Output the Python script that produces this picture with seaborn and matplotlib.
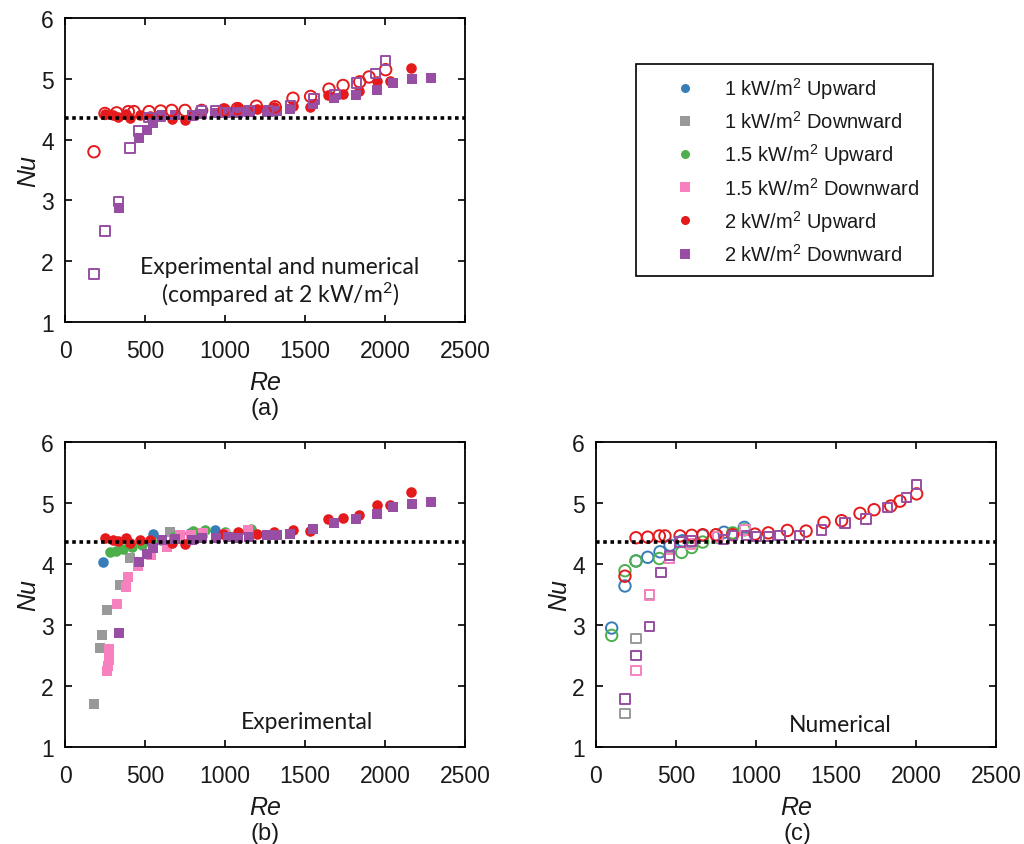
import matplotlib
matplotlib.use("Agg")
import matplotlib.pyplot as plt
from matplotlib.lines import Line2D
import seaborn as sns

# ---------------- data ----------------
# Experimental, 1 kW/m2
exp_1up_re = [240, 550, 780, 940]
exp_1up_nu = [4.03, 4.50, 4.51, 4.56]
exp_1down_re = [180, 218, 230, 262, 342, 405, 655]
exp_1down_nu = [1.70, 2.62, 2.84, 3.24, 3.66, 4.10, 4.52]
# Experimental, 1.5 kW/m2
exp_15up_re = [280, 320, 365, 420, 480, 540, 600, 680, 800, 875, 1000, 1165]
exp_15up_nu = [4.19, 4.22, 4.25, 4.28, 4.31, 4.36, 4.40, 4.45, 4.54, 4.55, 4.52, 4.57]
exp_15down_re = [262, 268, 272, 275, 278, 327, 381, 392, 458, 540, 635, 720, 790, 865, 1000, 1145]
exp_15down_nu = [2.25, 2.33, 2.42, 2.52, 2.60, 3.34, 3.62, 3.79, 3.97, 4.15, 4.28, 4.48, 4.47, 4.51, 4.50, 4.56]
# Experimental, 2 kW/m2
exp_2up_re = [250, 302, 333, 381, 406, 469, 531, 667, 750, 990, 1083, 1198, 1309, 1425,
              1530, 1646, 1735, 1840, 1948, 2031, 2160]
exp_2up_nu = [4.42, 4.40, 4.37, 4.42, 4.35, 4.40, 4.39, 4.34, 4.32, 4.50, 4.53, 4.50, 4.53, 4.56,
              4.54, 4.73, 4.75, 4.80, 4.96, 4.96, 5.18]
exp_2down_re = [338, 463, 510, 552, 604, 688, 792, 854, 944, 1021, 1083, 1152, 1260, 1323,
                1406, 1552, 1679, 1819, 1948, 2052, 2171, 2287]
exp_2down_nu = [2.87, 4.03, 4.16, 4.27, 4.40, 4.41, 4.40, 4.42, 4.43, 4.45, 4.43, 4.45, 4.47, 4.47,
                4.50, 4.58, 4.68, 4.73, 4.82, 4.93, 4.99, 5.01]

# Numerical, 1 kW/m2
num_1up_re = [98, 181, 250, 323, 400, 463, 540, 667, 800, 927]
num_1up_nu = [2.95, 3.64, 4.05, 4.11, 4.20, 4.31, 4.38, 4.47, 4.52, 4.60]
num_1down_re = [181, 250, 333, 458, 590, 760, 931]
num_1down_nu = [1.55, 2.78, 3.50, 4.10, 4.34, 4.45, 4.57]
# Numerical, 1.5 kW/m2
num_15up_re = [98, 181, 250, 396, 535, 598, 667, 760, 854, 927]
num_15up_nu = [2.83, 3.89, 4.05, 4.09, 4.19, 4.27, 4.36, 4.44, 4.51, 4.56]
num_15down_re = [250, 333, 458, 590, 760, 931]
num_15down_nu = [2.25, 3.49, 4.09, 4.33, 4.44, 4.56]
# Numerical, 2 kW/m2
num_2up_re = [181, 250, 323, 396, 431, 525, 598, 667, 750, 854, 994, 1077, 1196, 1313,
              1425, 1535, 1650, 1738, 1842, 1900, 2004]
num_2up_nu = [3.80, 4.43, 4.44, 4.46, 4.46, 4.46, 4.47, 4.48, 4.48, 4.48, 4.49, 4.51, 4.55, 4.54,
              4.68, 4.71, 4.83, 4.89, 4.95, 5.03, 5.15]
num_2down_re = [181, 250, 333, 406, 458, 525, 598, 796, 854, 942, 1004, 1077, 1150, 1271,
                1410, 1556, 1688, 1821, 1942, 2004]
num_2down_nu = [1.79, 2.50, 2.98, 3.86, 4.14, 4.36, 4.38, 4.40, 4.47, 4.47, 4.45, 4.45, 4.47, 4.47,
                4.56, 4.67, 4.74, 4.93, 5.09, 5.30]

nu_fully_developed = 4.36

series_labels = ["1 kW/m$^2$ Upward", "1 kW/m$^2$ Downward",
                 "1.5 kW/m$^2$ Upward", "1.5 kW/m$^2$ Downward",
                 "2 kW/m$^2$ Upward", "2 kW/m$^2$ Downward"]

# ---------------- style ----------------
sns.set_theme(style="white")
plt.rcParams["font.family"] = ["Liberation Sans", "DejaVu Sans"]
plt.rcParams["mathtext.default"] = "regular"

set1 = sns.color_palette("Set1", 9)
colors = [set1[1], set1[8], set1[2], set1[7], set1[0], set1[3]]
markers = ["o", "s", "o", "s", "o", "s"]

exp_sets = [(exp_1up_re, exp_1up_nu), (exp_1down_re, exp_1down_nu),
            (exp_15up_re, exp_15up_nu), (exp_15down_re, exp_15down_nu),
            (exp_2up_re, exp_2up_nu), (exp_2down_re, exp_2down_nu)]
num_sets = [(num_1up_re, num_1up_nu), (num_1down_re, num_1down_nu),
            (num_15up_re, num_15up_nu), (num_15down_re, num_15down_nu),
            (num_2up_re, num_2up_nu), (num_2down_re, num_2down_nu)]

W, H = 1024, 845
fig = plt.figure(figsize=(W / 100, H / 100), dpi=100)
ax_a = fig.add_axes([65 / W, 1 - 323 / H, 400 / W, 304 / H])
ax_b = fig.add_axes([65 / W, 1 - 748 / H, 400 / W, 305 / H])
ax_c = fig.add_axes([596 / W, 1 - 748 / H, 400 / W, 305 / H])


def filled(ax, re, nu, color, marker):
    size = 58 if marker == "o" else 54
    sns.scatterplot(x=re, y=nu, ax=ax, color=color, marker=marker, s=size,
                    edgecolor=color, linewidth=0, zorder=3)


def hollow(ax, re, nu, color, marker):
    size = 68 if marker == "o" else 46
    sns.scatterplot(x=re, y=nu, ax=ax, color=color, marker=marker, s=size,
                    facecolors="none", edgecolor=color, linewidth=1.4, zorder=3)


# (a) experimental and numerical at 2 kW/m2
for i in (4, 5):
    filled(ax_a, *exp_sets[i], colors[i], markers[i])
for i in (4, 5):
    hollow(ax_a, *num_sets[i], colors[i], markers[i])

# (b) experimental, all heat fluxes
for i in range(6):
    filled(ax_b, *exp_sets[i], colors[i], markers[i])

# (c) numerical, all heat fluxes
for i in range(6):
    hollow(ax_c, *num_sets[i], colors[i], markers[i])

for ax in (ax_a, ax_b, ax_c):
    ax.axhline(nu_fully_developed, color="black", linestyle=(0, (1, 1)),
               linewidth=2.6, zorder=4)
    ax.set_xlim(0, 2500)
    ax.set_ylim(1, 6)
    ax.set_xticks([0, 500, 1000, 1500, 2000, 2500])
    ax.set_yticks([1, 2, 3, 4, 5, 6])
    ax.tick_params(direction="in", length=5, width=1.2, color="black",
                   bottom=True, top=True, left=True, right=True,
                   labelsize=16.5, labelcolor="#1a1a1a")
    ax.tick_params(axis="x", pad=12)
    ax.tick_params(axis="y", pad=8)
    for sp in ax.spines.values():
        sp.set_visible(True)
        sp.set_color("black")
        sp.set_linewidth(1.3)
    ax.set_xlabel("Re", style="italic", fontsize=18, color="#1a1a1a")
    ax.set_ylabel("Nu", style="italic", fontsize=18, color="#1a1a1a")
    ax.xaxis.set_label_coords(0.5, -0.158)
    ax.yaxis.set_label_coords(-0.063, 0.5)

note_font = ["Lato", "DejaVu Sans"]
ax_a.text(0.5375, 0.132, "Experimental and numerical\n(compared at 2 kW/m$^2$)",
          transform=ax_a.transAxes, ha="center", va="center", fontsize=16.5,
          family=note_font, linespacing=1.1, color="#1a1a1a")
ax_b.text(0.605, 0.082, "Experimental", transform=ax_b.transAxes, ha="center",
          va="center", fontsize=16.5, family=note_font, color="#1a1a1a")
ax_c.text(0.61, 0.075, "Numerical", transform=ax_c.transAxes, ha="center",
          va="center", fontsize=16.5, family=note_font, color="#1a1a1a")

for txt, x, y in (("(a)", 265, 409), ("(b)", 265, 834), ("(c)", 797, 834)):
    fig.text(x / W, 1 - y / H, txt, ha="center", va="center", fontsize=17,
             color="#1a1a1a")

handles = [Line2D([], [], linestyle="none", marker=m, color=c, markersize=6.5,
                  markeredgewidth=0) for m, c in zip(markers, colors)]
leg = fig.legend(handles, series_labels, loc="upper left",
                 bbox_to_anchor=(636 / W, 1 - 65 / H, (933 - 636) / W, 0),
                 mode="expand", fontsize=14.5, frameon=True, fancybox=False,
                 borderaxespad=0, borderpad=0.55, labelspacing=0.46,
                 handlelength=3.8, handletextpad=0.0)
for t in leg.get_texts():
    t.set_color("#1a1a1a")
leg.get_frame().set_edgecolor("black")
leg.get_frame().set_linewidth(1.2)
leg.get_frame().set_alpha(1)

fig.savefig("out.png", dpi=100)
